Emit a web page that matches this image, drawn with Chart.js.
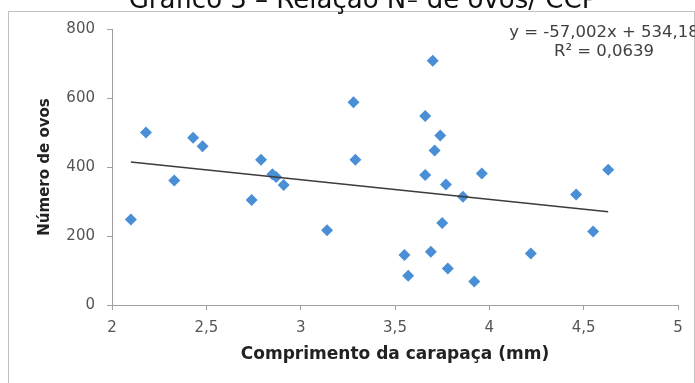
<!DOCTYPE html>
<html>
<head>
<meta charset="utf-8">
<script src="https://cdn.jsdelivr.net/npm/chart.js@4.4.1/dist/chart.umd.min.js"></script>
<style>
  html, body { margin: 0; padding: 0; background: #fff; overflow: hidden; }
  #wrap { position: relative; width: 695px; height: 383px; }
</style>
</head>
<body>
<div id="wrap"><canvas id="c" width="695" height="383"></canvas></div>
<script>
// Comprimento da carapaça (mm) de cada fêmea e respectivo número de ovos
const comprimento = [2.10, 2.18, 2.33, 2.43, 2.48, 2.74, 2.79, 2.85, 2.87, 2.91,
                     3.14, 3.28, 3.29, 3.55, 3.57, 3.66, 3.66, 3.69, 3.70, 3.71,
                     3.74, 3.75, 3.77, 3.78, 3.86, 3.92, 3.96, 4.22, 4.46, 4.55, 4.63];
const ovos        = [248, 500, 361, 485, 460, 304, 421, 379, 371, 348,
                     217, 588, 421, 145, 85, 548, 377, 154, 708, 448,
                     491, 238, 349, 106, 314, 68, 381, 149, 320, 213, 392];

// Linha de tendência linear
const inclinacao = -57.002;
const intercepto = 534.18;
const equacaoTexto = ['y = -57,002x + 534,18', 'R² = 0,0639'];

const xTicks = ['2', '2,5', '3', '3,5', '4', '4,5', '5'];
const yTicks = ['0', '200', '400', '600', '800'];

const titulo = 'Gráfico 3 – Relação Nº de ovos/ CCP';
const tituloX = 'Comprimento da carapaça (mm)';
const tituloY = 'Número de ovos';

const pontos = comprimento.map((x, i) => ({ x: x, y: ovos[i] }));
const xMin = Math.min(...comprimento);
const xMax = Math.max(...comprimento);
const tendencia = [xMin, xMax].map(x => ({ x: x, y: inclinacao * x + intercepto }));

const FONT = "'DejaVu Sans', sans-serif";
const axisColor = '#a0a0a0';

const extras = {
  id: 'extras',
  afterDraw(chart) {
    const ctx = chart.ctx;
    ctx.save();
    // moldura do gráfico
    ctx.strokeStyle = '#c0c0c0';
    ctx.lineWidth = 1;
    ctx.strokeRect(8.5, 11.5, 686, 400);
    // título
    ctx.fillStyle = '#111';
    ctx.font = "26px " + FONT;
    ctx.textAlign = 'center';
    ctx.textBaseline = 'alphabetic';
    ctx.fillText(titulo, 363, 7.5);
    // equação da tendência
    ctx.fillStyle = '#404040';
    ctx.font = "16.5px " + FONT;
    ctx.textBaseline = 'middle';
    ctx.fillText(equacaoTexto[0], 604, 33);
    ctx.fillText(equacaoTexto[1], 604, 52);
    ctx.restore();
  }
};

new Chart(document.getElementById('c'), {
  type: 'scatter',
  data: {
    datasets: [
      {
        type: 'line',
        data: tendencia,
        borderColor: '#3c3c3c',
        borderWidth: 1.5,
        pointRadius: 0,
        fill: false,
        order: 0
      },
      {
        data: pontos,
        pointStyle: 'rectRot',
        pointRadius: 6,
        backgroundColor: '#4a8fd6',
        borderColor: '#4a8fd6',
        borderWidth: 0,
        order: 1
      }
    ]
  },
  options: {
    responsive: false,
    animation: false,
    devicePixelRatio: 1,
    layout: { padding: { top: 29, right: 17, left: 0, bottom: 0 } },
    plugins: { legend: { display: false }, tooltip: { enabled: false } },
    scales: {
      x: {
        type: 'linear',
        min: 2, max: 5,
        afterFit: s => { s.height = 78; },
        ticks: {
          stepSize: 0.5,
          padding: 9,
          color: '#555',
          font: { family: FONT, size: 15 },
          callback: (v) => xTicks[Math.round((v - 2) / 0.5)]
        },
        grid: { drawOnChartArea: false, drawTicks: true, tickLength: 5, color: axisColor },
        border: { display: true, color: axisColor, width: 1 },
        title: {
          display: true, text: tituloX, color: '#222',
          font: { family: FONT, size: 17, weight: 'bold', lineHeight: 1.2 },
          padding: { top: 0, bottom: 18 }
        }
      },
      y: {
        min: 0, max: 800,
        afterFit: s => { s.width = 112; },
        ticks: {
          stepSize: 200,
          padding: 12,
          color: '#555',
          font: { family: FONT, size: 15 },
          callback: (v) => yTicks[Math.round(v / 200)]
        },
        grid: { drawOnChartArea: false, drawTicks: true, tickLength: 5, color: axisColor },
        border: { display: true, color: axisColor, width: 1 },
        title: {
          display: true, text: tituloY, color: '#222',
          font: { family: FONT, size: 15, weight: 'bold', lineHeight: 1.2 },
          padding: { top: 36, bottom: 0 }
        }
      }
    }
  },
  plugins: [extras]
});
</script>
</body>
</html>
